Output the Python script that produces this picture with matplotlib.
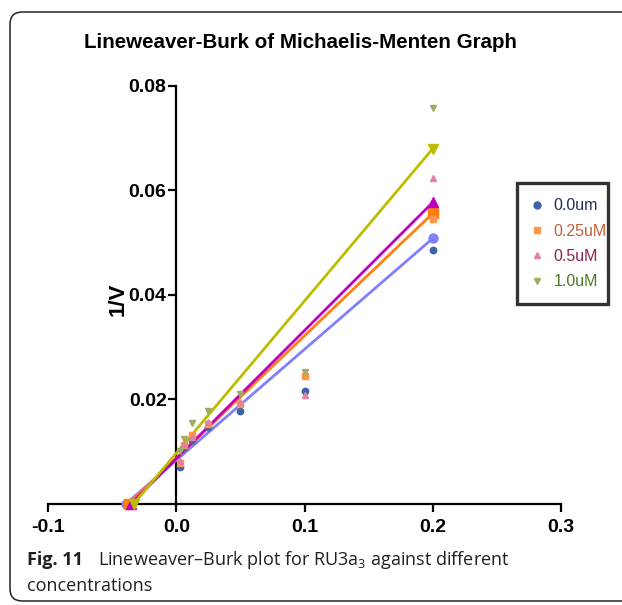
import matplotlib
matplotlib.use('Agg')
import matplotlib.pyplot as plt
from matplotlib.patches import FancyBboxPatch
from matplotlib.lines import Line2D

W, H, DPI = 622, 605, 100

# ---------------- data ----------------
series_names = ["0.0um", "0.25uM", "0.5uM", "1.0uM"]
inv_s = [0.003125, 0.00625, 0.0125, 0.025, 0.05, 0.1, 0.2]
inv_v_00 = [0.0070, 0.0108, 0.0122, 0.0146, 0.0178, 0.0215, 0.0485]
inv_v_025 = [0.0078, 0.0112, 0.0131, 0.0152, 0.0190, 0.0245, 0.0545]
inv_v_05 = [0.0082, 0.0114, 0.0128, 0.0157, 0.0195, 0.0207, 0.0623]
inv_v_10 = [0.0100, 0.0123, 0.0154, 0.0178, 0.0210, 0.0252, 0.0757]
series_values = [inv_v_00, inv_v_025, inv_v_05, inv_v_10]
fit_x_intercepts = [-0.039, -0.037, -0.035, -0.033]
fit_end_x = 0.2
fit_end_y = [0.0508, 0.0556, 0.0577, 0.0680]
x_ticks = [-0.1, 0.0, 0.1, 0.2, 0.3]
x_tick_labels = ["-0.1", "0.0", "0.1", "0.2", "0.3"]
y_ticks = [0.02, 0.04, 0.06, 0.08]
y_tick_labels = ["0.02", "0.04", "0.06", "0.08"]

# ---------------- style ----------------
point_colors = ["#3d63a8", "#ff9447", "#e0829f", "#a3ab62"]
line_colors = ["#8080ff", "#ff8010", "#c000c0", "#bcbc00"]
label_colors = ["#1d2d5c", "#c0603a", "#8a2352", "#4c7a22"]
markers = ["o", "s", "^", "v"]

plt.rcParams['font.family'] = ['Liberation Sans', 'DejaVu Sans']
plt.rcParams['mathtext.fontset'] = 'custom'
plt.rcParams['mathtext.rm'] = 'Open Sans'

fig = plt.figure(figsize=(W / DPI, H / DPI), dpi=DPI)

# rounded frame around the figure
frame = FancyBboxPatch((10 / W, 1 - 601 / H), 640 / W, 589 / H,
                       boxstyle="round,pad=0,rounding_size=0.02",
                       transform=fig.transFigure, fill=False,
                       edgecolor="#222222", linewidth=1.1)
fig.patches.append(frame)

ax = fig.add_axes([48 / W, 1 - 503.5 / H, 513 / W, 417.5 / H])
ax.set_facecolor('none')
ax.set_xlim(-0.1, 0.3)
ax.set_ylim(0, 0.08)

for i in range(4):
    ax.plot([fit_x_intercepts[i], fit_end_x], [0, fit_end_y[i]],
            color=line_colors[i], lw=2.0, marker=markers[i], ms=6.5,
            mec=line_colors[i], mfc=line_colors[i], clip_on=False, zorder=2)

for i in range(4):
    ax.plot(inv_s, series_values[i], linestyle='none', marker=markers[i],
            ms=4.6, color=point_colors[i], mec=point_colors[i],
            clip_on=False, zorder=3)

for s in ['top', 'right']:
    ax.spines[s].set_visible(False)
ax.spines['left'].set_position(('data', 0))
ax.spines['bottom'].set_position(('data', 0))
for s in ['left', 'bottom']:
    ax.spines[s].set_linewidth(1.6)
    ax.spines[s].set_zorder(1)

ax.set_xticks(x_ticks)
ax.set_xticklabels(x_tick_labels)
ax.set_yticks(y_ticks)
ax.set_yticklabels(y_tick_labels)
ax.tick_params(direction='out', length=6, width=1.6, labelsize=14)
ax.tick_params(axis='y', pad=1)
ax.tick_params(axis='x', pad=5)
for t in ax.get_xticklabels() + ax.get_yticklabels():
    t.set_fontweight('bold')

fig.text(118 / W, 1 - 299 / H, "1/V", rotation=90, ha='center', va='center',
         fontsize=16, fontweight='bold')

fig.text(300 / W, 1 - 42 / H, "Lineweaver-Burk of Michaelis-Menten Graph",
         ha='center', va='center', fontsize=14.8, fontweight='bold')

# legend
handles = [Line2D([], [], linestyle='none', marker=markers[i], ms=5,
                  color=point_colors[i]) for i in range(4)]
leg = fig.legend(handles, series_names, loc='upper left',
                 bbox_to_anchor=(517 / W, 1 - 304 / H, 91 / W, 121 / H),
                 mode='expand', prop={'family': ['Liberation Sans'], 'size': 11.5},
                 frameon=True, fancybox=False, borderpad=0.95, labelspacing=0.65,
                 handlelength=0.6, handletextpad=0.75, borderaxespad=0,
                 labelcolor=label_colors)
leg.get_frame().set_edgecolor('black')
leg.get_frame().set_linewidth(2.4)

# caption
CAP = ['Open Sans', 'DejaVu Sans']
fig.text(27 / W, 1 - 560 / H, "Fig. 11", ha='left', va='center',
         fontsize=13, fontweight='bold', family=CAP, color='#231f20')
fig.text(98 / W, 1 - 560 / H,
         r"Lineweaver–Burk plot for RU3a$_\mathrm{3}$ against different",
         ha='left', va='center', fontsize=13, family=CAP, color='#231f20')
fig.text(27 / W, 1 - 586 / H, "concentrations", ha='left', va='center',
         fontsize=13, family=CAP, color='#231f20')

fig.savefig('out.png', dpi=DPI)
